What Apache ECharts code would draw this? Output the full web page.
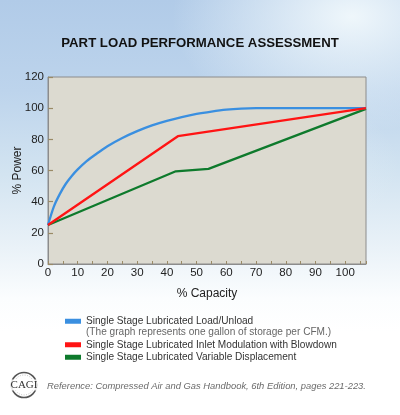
<!DOCTYPE html>
<html><head><meta charset="utf-8">
<script src="https://cdn.jsdelivr.net/npm/echarts@6/dist/echarts.min.js"></script>
<style>
html,body{margin:0;padding:0;width:400px;height:415px;overflow:hidden;}
body{background:
 radial-gradient(ellipse 45% 28% at 88% 4%, rgba(242,249,252,0.95), rgba(242,249,252,0) 100%),
 radial-gradient(ellipse 40% 20% at 60% 40%, rgba(235,243,249,0.6), rgba(235,243,249,0) 100%),
 linear-gradient(to bottom, #b1cbe8 0%, #bdd4ec 22%, #d3e4f1 42%, #eaf2f8 60%, #fbfdfe 72%, #ffffff 80%);}
#c{width:400px;height:415px;}
</style></head>
<body><div id="c"></div>
<script>
const title = 'PART LOAD PERFORMANCE ASSESSMENT';
const seriesNames = [
  'Single Stage Lubricated Load/Unload',
  'Single Stage Lubricated Inlet Modulation with Blowdown',
  'Single Stage Lubricated Variable Displacement'
];
const noteText = '(The graph represents one gallon of storage per CFM.)';
const refText = 'Reference: Compressed Air and Gas Handbook, 6th Edition, pages 221-223.';

const blueCapacity = [0, 2, 4, 6, 8, 10, 13, 16, 20, 25, 30, 35, 40, 45, 50, 55, 60, 65, 70, 107];
const bluePower    = [25, 37, 45, 51.5, 56.5, 60.7, 66, 70.3, 75.6, 80.9, 85.3, 89, 91.9, 94.3, 96.3, 97.8, 99, 99.7, 100, 100];
const redCapacity  = [0, 43.7, 107];
const redPower     = [25, 82, 100];
const greenCapacity = [0, 43, 54, 107];
const greenPower    = [25, 59.5, 61, 99.5];

const xMax = 107, xInterval = 10;
const yMax = 120, yInterval = 20;

const pair = (xs, ys) => xs.map((x, i) => [x, ys[i]]);
const font = '"Liberation Sans", Arial, sans-serif';
const colors = ['#3a8fe0', '#ff1414', '#0e7a2c'];
const legendText = {fontFamily: font, fontSize: 10.1, color: '#333', lineHeight: 12.5};

const chart = echarts.init(document.getElementById('c'), null, {renderer: 'canvas'});
chart.setOption({
  backgroundColor: 'transparent',
  animation: false,
  title: {
    text: title, left: 'center', top: 36.5, padding: 0,
    textStyle: {fontFamily: font, fontSize: 13.2, fontWeight: 'bold', color: '#111'}
  },
  grid: {
    left: 48, right: 34, top: 77, bottom: 151, outerBoundsMode: 'none', containLabel: false,
    show: true, backgroundColor: '#dcdad0', borderColor: '#8c8c8c', borderWidth: 1
  },
  legend: [
    {
      data: [seriesNames[0]], orient: 'vertical', left: 65, top: 315, padding: 0,
      itemWidth: 16, itemHeight: 5, itemGap: 0, icon: 'rect', textStyle: legendText
    },
    {
      data: [seriesNames[1], seriesNames[2]], orient: 'vertical', left: 65, top: 338.5, padding: 0,
      itemWidth: 16, itemHeight: 5, itemGap: 0, icon: 'rect', textStyle: legendText
    }
  ],
  xAxis: {
    type: 'value', min: 0, max: xMax, interval: xInterval,
    name: '% Capacity', nameLocation: 'middle', nameGap: 24, nameMoveOverlap: false,
    nameTextStyle: {fontFamily: font, fontSize: 12, color: '#222'},
    axisLine: {show: true, lineStyle: {color: '#8c8c8c'}},
    axisTick: {show: true, inside: true, length: 3, lineStyle: {color: '#9a8a66'}},
    minorTick: {show: true, splitNumber: 2, length: 3, lineStyle: {color: '#9a8a66'}},
    splitLine: {show: false},
    axisLabel: {
      margin: 3, fontFamily: font, fontSize: 11.5, color: '#222',
      formatter: v => (v % xInterval === 0 ? String(v) : '')
    }
  },
  yAxis: {
    type: 'value', min: 0, max: yMax, interval: yInterval,
    name: '% Power', nameLocation: 'middle', nameGap: 24, nameRotate: 90, nameMoveOverlap: false,
    nameTextStyle: {fontFamily: font, fontSize: 12, color: '#222'},
    axisLine: {show: true, lineStyle: {color: '#8c8c8c'}},
    axisTick: {show: true, inside: true, length: 5, lineStyle: {color: '#9a8a66', width: 1.2}},
    splitLine: {show: false},
    axisLabel: {margin: 4, fontFamily: font, fontSize: 11.5, color: '#222'}
  },
  series: [
    {name: seriesNames[0], type: 'line', data: pair(blueCapacity, bluePower), smooth: 0.3,
     showSymbol: false, lineStyle: {color: colors[0], width: 2.3}, itemStyle: {color: colors[0]}, z: 3},
    {name: seriesNames[1], type: 'line', data: pair(redCapacity, redPower),
     showSymbol: false, lineStyle: {color: colors[1], width: 2.3}, itemStyle: {color: colors[1]}, z: 4},
    {name: seriesNames[2], type: 'line', data: pair(greenCapacity, greenPower),
     showSymbol: false, lineStyle: {color: colors[2], width: 2.3}, itemStyle: {color: colors[2]}, z: 2}
  ],
  graphic: [
    {type: 'text', left: 86, top: 327,
     style: {text: noteText, fontFamily: font, fontSize: 10.1, fill: '#666'}},
    {type: 'text', left: 47, top: 382,
     style: {text: refText, fontFamily: font, fontSize: 9.4, fontStyle: 'italic', fill: '#6a6a6a'}},
    {type: 'circle', shape: {cx: 24, cy: 385, r: 12.5},
     style: {fill: 'rgba(255,255,255,0.6)', stroke: '#555', lineWidth: 1.6}},
    {type: 'circle', shape: {cx: 24, cy: 385, r: 10},
     style: {fill: 'none', stroke: '#999', lineWidth: 0.6, lineDash: [1, 1.5]}},
    {type: 'text', x: 24, y: 385,
     style: {text: 'CAGI', fontFamily: '"Liberation Serif", serif', fontSize: 11, fill: '#333',
             align: 'center', verticalAlign: 'middle', backgroundColor: 'rgba(255,255,255,0.85)'}}
  ]
});
</script>
</body></html>
